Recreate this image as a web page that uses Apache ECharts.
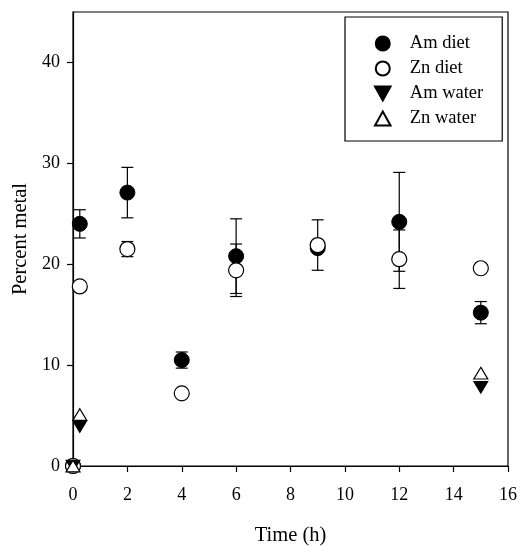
<!DOCTYPE html>
<html>
<head>
<meta charset="utf-8">
<script src="https://cdn.jsdelivr.net/npm/echarts@6/dist/echarts.min.js"></script>
<style>
  html, body { margin: 0; padding: 0; background: #fff; }
  #chart { width: 521px; height: 546px; }
</style>
</head>
<body>
<div id="chart"></div>
<script>
// Sampling times (h) for the diet exposure
const dietTimes = [0, 0.25, 2, 4, 6, 9, 12, 15];
// Percent metal from diet, with error (± half-range)
const amDiet    = [0, 24.0, 27.1, 10.5, 20.8, 21.6, 24.2, 15.2];
const amDietErr = [0, 1.4, 2.5, 0.8, 3.7, 0, 4.9, 1.1];
const znDiet    = [0, 17.8, 21.5, 7.2, 19.4, 21.9, 20.5, 19.6];
const znDietErr = [0, 0, 0.75, 0, 2.6, 2.5, 2.9, 0];
// Sampling times (h) and percent metal from water
const waterTimes = [0, 0.25, 15];
const amWater = [0, 3.9, 7.8];
const znWater = [0, 5.1, 9.2];
// Axis ticks
const xTicks = [0, 2, 4, 6, 8, 10, 12, 14, 16];
const yTicks = [0, 10, 20, 30, 40];

const FONT = '"Liberation Serif", "Times New Roman", serif';
const triangleDown = 'path://M0,0L20,0L10,18Z';
const triangleUp = 'path://M10,0L20,18L0,18Z';

function pairs(xs, ys) {
  return xs.map((x, i) => [x, ys[i]]);
}
function errRows(xs, ys, es) {
  const rows = [];
  xs.forEach((x, i) => {
    if (es[i] > 0) rows.push([x, ys[i] - es[i], ys[i] + es[i]]);
  });
  return rows;
}

// Vertical error bar with caps at both ends
function renderErrorBar(params, api) {
  const x = api.value(0);
  const top = api.coord([x, api.value(2)]);
  const bot = api.coord([x, api.value(1)]);
  const hw = 6;
  const style = { stroke: '#000', lineWidth: 1.2 };
  return {
    type: 'group',
    children: [
      { type: 'line', shape: { x1: top[0], y1: top[1], x2: bot[0], y2: bot[1] }, style },
      { type: 'line', shape: { x1: top[0] - hw, y1: top[1], x2: top[0] + hw, y2: top[1] }, style },
      { type: 'line', shape: { x1: bot[0] - hw, y1: bot[1], x2: bot[0] + hw, y2: bot[1] }, style }
    ]
  };
}

const chart = echarts.init(document.getElementById('chart'), null, { renderer: 'canvas' });

const axisCommon = {
  axisLine: { show: true, onZero: false, lineStyle: { color: '#000', width: 1.2 } },
  axisTick: { show: true, inside: false, length: 6, lineStyle: { color: '#000', width: 1.2 } },
  splitLine: { show: false },
  nameTextStyle: { fontFamily: FONT, fontSize: 20.5, color: '#000' }
};

chart.setOption({
  animation: false,
  backgroundColor: '#fff',
  grid: {
    left: 73, right: 13, top: 12, bottom: 80,
    outerBoundsMode: 'none',
    show: true, borderColor: '#000', borderWidth: 1.2, backgroundColor: 'transparent'
  },
  legend: {
    data: ['Am diet', 'Zn diet', 'Am water', 'Zn water'],
    orient: 'vertical',
    left: 345,
    top: 17,
    padding: [17, 19, 13, 29],
    itemWidth: 44,
    itemHeight: 14,
    itemGap: 6,
    borderColor: '#000',
    borderWidth: 1.2,
    textStyle: { fontFamily: FONT, fontSize: 18.5, color: '#000' }
  },
  xAxis: Object.assign({}, axisCommon, {
    type: 'value',
    min: 0, max: 16, interval: 2,
    name: 'Time (h)',
    nameLocation: 'middle',
    nameGap: 59,
    axisTick: Object.assign({}, axisCommon.axisTick, { customValues: xTicks }),
    axisLabel: { customValues: xTicks, margin: 20, fontFamily: FONT, fontSize: 18, color: '#000' }
  }),
  yAxis: Object.assign({}, axisCommon, {
    type: 'value',
    min: 0, max: 45, interval: 10,
    name: 'Percent metal',
    nameLocation: 'middle',
    nameMoveOverlap: false,
    nameGap: 42,
    axisTick: Object.assign({}, axisCommon.axisTick, { customValues: yTicks }),
    axisLabel: { customValues: yTicks, margin: 13, fontFamily: FONT, fontSize: 18, color: '#000' }
  }),
  series: [
    {
      name: 'Am diet err', type: 'custom', renderItem: renderErrorBar,
      data: errRows(dietTimes, amDiet, amDietErr), z: 1, silent: true
    },
    {
      name: 'Zn diet err', type: 'custom', renderItem: renderErrorBar,
      data: errRows(dietTimes, znDiet, znDietErr), z: 1, silent: true
    },
    {
      name: 'Am diet', type: 'scatter', symbol: 'circle', symbolSize: 15,
      itemStyle: { color: '#000', borderColor: '#000', borderWidth: 1, opacity: 1 },
      data: pairs(dietTimes, amDiet), z: 3
    },
    {
      name: 'Zn diet', type: 'scatter', symbol: 'circle', symbolSize: 15,
      itemStyle: { color: '#fff', borderColor: '#000', borderWidth: 1.2, opacity: 1 },
      data: pairs(dietTimes, znDiet), z: 4
    },
    {
      name: 'Am water', type: 'scatter', symbol: triangleDown, symbolSize: [14, 13],
      symbolKeepAspect: true,
      itemStyle: { color: '#000', borderColor: '#000', borderWidth: 1, opacity: 1 },
      data: pairs(waterTimes, amWater), z: 5
    },
    {
      name: 'Zn water', type: 'scatter', symbol: triangleUp, symbolSize: [14, 13],
      symbolKeepAspect: true,
      itemStyle: { color: '#fff', borderColor: '#000', borderWidth: 1.2, opacity: 1 },
      data: pairs(waterTimes, znWater), z: 6
    }
  ]
});
</script>
</body>
</html>
